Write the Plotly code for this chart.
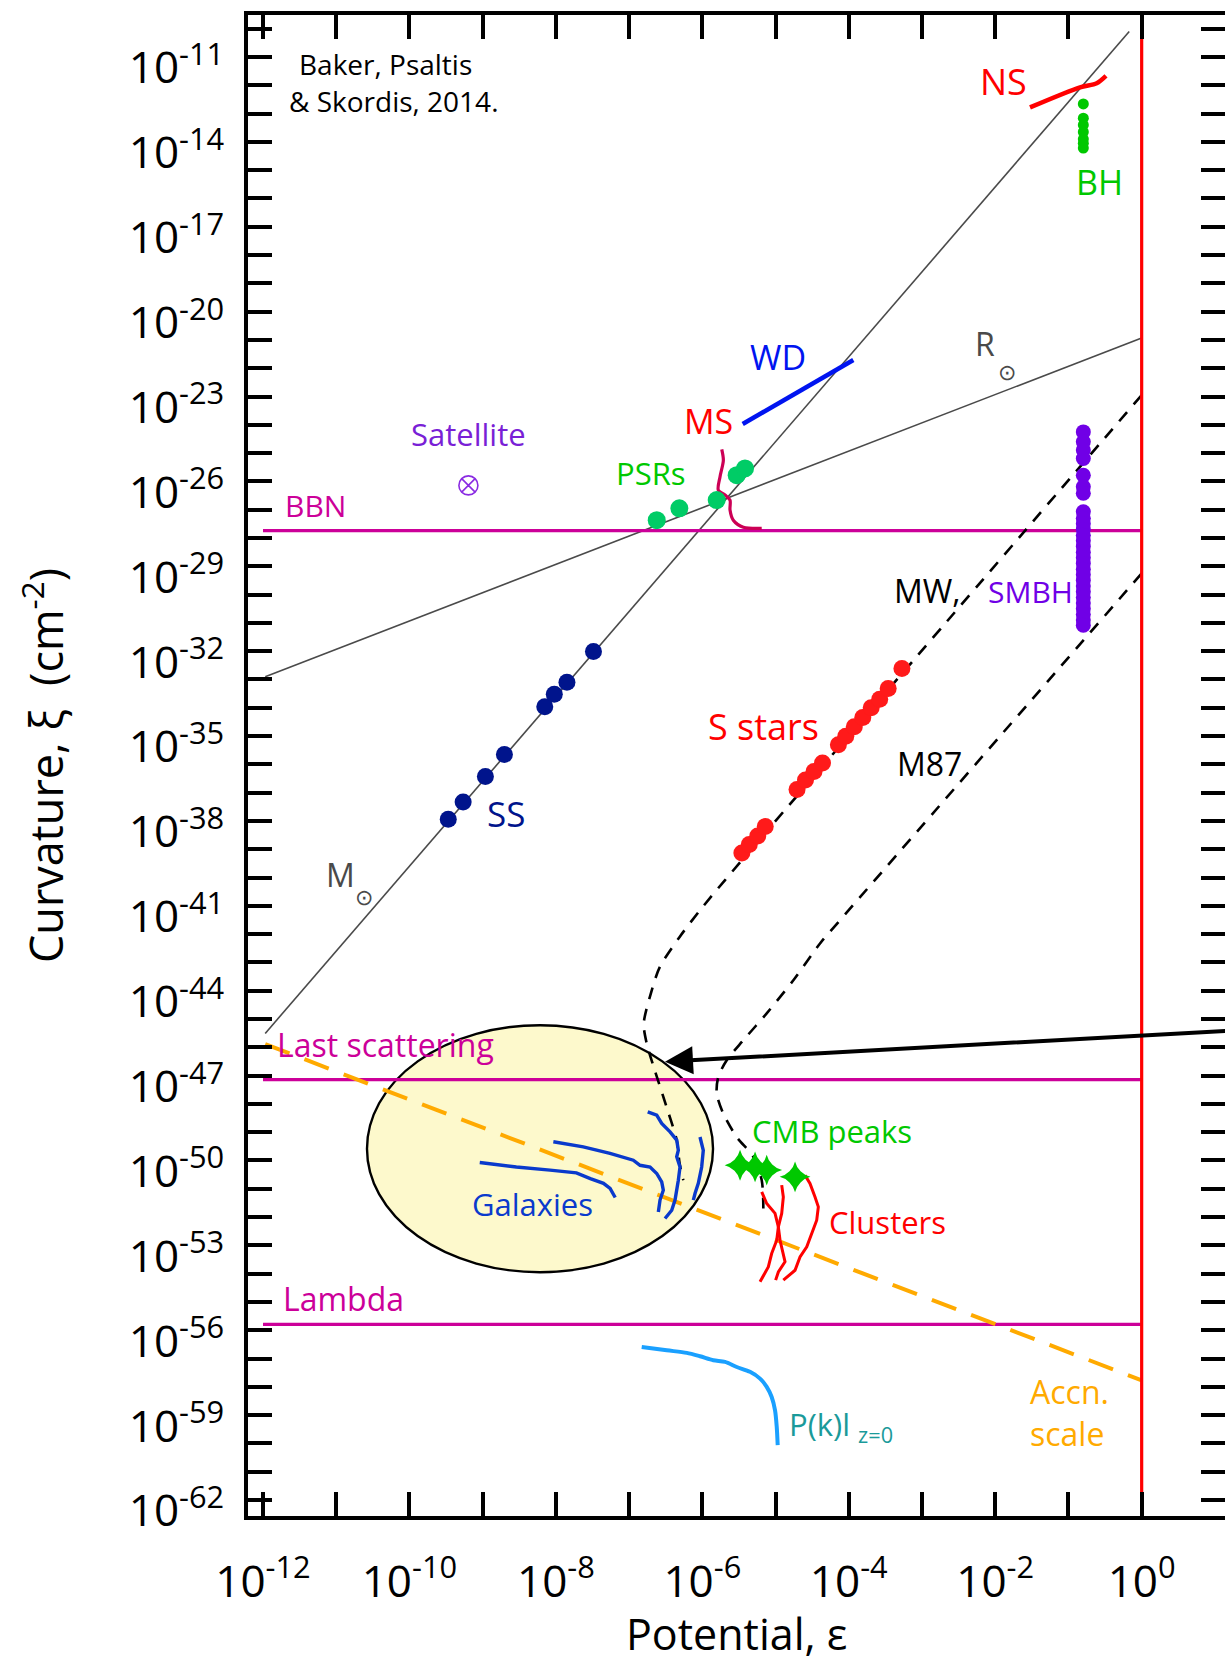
import numpy as np
import plotly.graph_objects as go

FONT = "Open Sans"

# ---------------- axes: decades ----------------
x_tick_exp = list(range(-12, 1))
x_label_exp = [-12, -10, -8, -6, -4, -2, 0]
y_tick_exp = list(range(-62, -9))
y_label_exp = [-62, -59, -56, -53, -50, -47, -44, -41, -38, -35, -32, -29, -26, -23, -20, -17, -14, -11]

# ---------------- reference lines (log10 eps, log10 xi) ----------------
msun_log_eps = [-11.97, -0.17]
msun_log_xi = [-45.51, -10.10]
rsun_log_eps = [-11.97, 0.0]
rsun_log_xi = [-32.90, -20.93]
accn_log_eps = [-11.97, 0.0]
accn_log_xi = [-45.89, -57.77]

hline_log_eps = [-12.0, 0.0]
bbn_log_xi = -27.74
last_scatter_log_xi = -47.14
lambda_log_xi = -55.79

horizon_log_eps = [0.0, 0.0]
horizon_log_xi = [-10.1, -62.0]

# ---------------- compact objects ----------------
ns_log_eps = [-1.525, -0.842, -0.614, -0.487]
ns_log_xi = [-12.78, -12.07, -11.93, -11.67]

bh_log_eps = [-0.797, -0.797, -0.797, -0.797, -0.797, -0.797, -0.797]
bh_log_xi = [-12.66, -13.16, -13.40, -13.65, -13.90, -14.05, -14.22]

wd_log_eps = [-5.449, -3.938]
wd_log_xi = [-23.97, -21.71]

ms_log_eps = [-5.735, -5.713, -5.759, -5.782, -5.690, -5.622, -5.622, -5.577, -5.440, -5.189]
ms_log_xi = [-24.87, -25.25, -25.84, -26.31, -26.48, -26.66, -27.01, -27.37, -27.62, -27.66]

psr_log_eps = [-6.623, -6.314, -5.804, -5.531, -5.417]
psr_log_xi = [-27.37, -26.95, -26.66, -25.78, -25.54]

satellite_log_eps = [-9.195]
satellite_log_xi = [-26.14]

ss_log_eps = [-9.470, -9.267, -8.963, -8.703, -8.152, -8.022, -7.849, -7.487]
ss_log_xi = [-37.94, -37.33, -36.43, -35.65, -33.96, -33.52, -33.10, -32.01]

sstar_log_eps = [-5.460, -5.359, -5.243, -5.141, -4.707, -4.591, -4.475, -4.359,
                 -4.142, -4.041, -3.925, -3.809, -3.694, -3.578, -3.462, -3.274]
sstar_log_xi = [-39.13, -38.83, -38.53, -38.20, -36.89, -36.55, -36.25, -35.95,
                -35.31, -35.01, -34.67, -34.34, -34.00, -33.70, -33.32, -32.61]

smbh_log_xi = [-24.25, -24.60, -24.89, -25.19, -25.78, -26.19, -26.42,
               -27.07, -27.30, -27.50, -27.70, -27.90, -28.10, -28.30, -28.50,
               -28.70, -28.90, -29.10, -29.30, -29.50, -29.70, -29.90, -30.10,
               -30.30, -30.50, -30.70, -30.90, -31.08]
smbh_log_eps = [-0.797] * len(smbh_log_xi)

# ---------------- galactic potentials (dashed) ----------------
mw_log_eps = [0.0, -5.69, -6.03, -6.31, -6.58, -6.69, -6.80, -6.76, -6.65, -6.49, -6.35, -6.31, -6.26]
mw_log_xi = [-22.95, -40.09, -41.15, -42.10, -43.16, -43.98, -45.16, -45.86, -46.81, -48.10, -49.28, -50.11, -50.70]

m87_log_eps = [0.0, -4.120, -4.393, -4.757, -5.121, -5.440, -5.667, -5.782, -5.804, -5.714, -5.531, -5.304, -5.189, -5.167]
m87_log_xi = [-29.25, -41.51, -42.33, -43.63, -44.80, -45.75, -46.46, -47.05, -47.63, -48.34, -49.17, -49.87, -50.70, -51.70]

# ---------------- galaxies (rotation curves) ----------------
gal_log_eps = [
    [-9.04, -8.54, -8.08, -7.72, -7.53, -7.35, -7.26, -7.19],
    [-8.035, -7.626, -7.261, -6.943, -6.851, -6.714, -6.623, -6.555, -6.533, -6.578, -6.601],
    [-6.746, -6.623, -6.555, -6.441, -6.350, -6.328, -6.350, -6.305, -6.328, -6.350, -6.373, -6.418, -6.510],
    [-6.032, -5.987, -6.009, -6.055, -6.100, -6.123],
]
gal_log_xi = [
    [-50.07, -50.23, -50.34, -50.44, -50.64, -50.81, -50.99, -51.31],
    [-49.34, -49.52, -49.75, -49.99, -50.17, -50.23, -50.46, -50.76, -51.05, -51.40, -51.82],
    [-48.28, -48.40, -48.69, -48.99, -49.28, -49.64, -49.87, -50.23, -50.70, -51.05, -51.40, -51.76, -52.05],
    [-49.17, -49.64, -50.23, -50.81, -51.17, -51.40],
]

# ---------------- clusters ----------------
cl_log_eps = [
    [-5.189, -5.121, -5.007, -4.962, -4.984, -5.053, -5.099, -5.144, -5.212],
    [-4.916, -4.894, -4.916, -4.962, -4.939, -4.894, -4.871, -4.962, -4.999],
    [-4.598, -4.530, -4.461, -4.416, -4.438, -4.506, -4.574, -4.666, -4.734, -4.894],
]
cl_log_xi = [
    [-51.11, -51.52, -51.87, -52.35, -52.82, -53.29, -53.76, -53.99, -54.29],
    [-50.87, -51.29, -51.87, -52.35, -52.82, -53.29, -53.58, -53.94, -54.23],
    [-50.52, -50.81, -51.29, -51.64, -52.11, -52.58, -53.05, -53.41, -53.88, -54.23],
]

cmb_log_eps = [-5.485, -5.280, -5.121, -4.734]
cmb_log_xi = [-50.17, -50.23, -50.34, -50.58]

pk_log_eps = [-6.828, -6.486, -6.213, -6.032, -5.850, -5.690, -5.530, -5.349,
              -5.212, -5.121, -5.053, -5.007, -4.984, -4.971]
pk_log_xi = [-56.59, -56.71, -56.80, -56.92, -57.06, -57.12, -57.30, -57.47,
             -57.71, -58.00, -58.36, -58.83, -59.42, -60.06]

# region covered by galaxy observations (ellipse bounds)
galaxy_region_log_eps = [-10.58, -5.854]
galaxy_region_log_xi = [-53.95, -45.22]


def lin(v):
    return 10.0 ** np.asarray(v, dtype=float)


fig = go.Figure()


def add_line(xe, ye, color, width, dash="solid", shape="linear"):
    fig.add_trace(go.Scatter(
        x=lin(xe), y=lin(ye), mode="lines",
        line=dict(color=color, width=width, dash=dash, shape=shape,
                  smoothing=0.8 if shape == "spline" else None),
        hoverinfo="skip", showlegend=False))


def add_dots(xe, ye, color, size, symbol="circle", line=None):
    fig.add_trace(go.Scatter(
        x=lin(xe), y=lin(ye), mode="markers",
        marker=dict(color=color, size=size, symbol=symbol,
                    line=line or dict(width=0)),
        hoverinfo="skip", showlegend=False))


GRAY = "#4a4a4a"
MAGENTA = "#cc0099"
RED = "#ff0000"
ORANGE = "#ffaa00"
GREEN = "#00c800"

# mass / radius reference lines
add_line(msun_log_eps, msun_log_xi, GRAY, 1.6)
add_line(rsun_log_eps, rsun_log_xi, GRAY, 1.6)

# cosmological reference curvatures
for v in (bbn_log_xi, last_scatter_log_xi, lambda_log_xi):
    add_line(hline_log_eps, [v, v], MAGENTA, 3.2)

# acceleration scale
add_line(accn_log_eps, accn_log_xi, ORANGE, 4, dash="26px,16px")

# galactic potentials
add_line(mw_log_eps, mw_log_xi, "black", 2.6, dash="12px,10px", shape="spline")
add_line(m87_log_eps, m87_log_xi, "black", 2.6, dash="12px,10px", shape="spline")

# galaxies, clusters, power spectrum
for xe, ye in zip(gal_log_eps, gal_log_xi):
    add_line(xe, ye, "#0a3acc", 3.4)
for xe, ye in zip(cl_log_eps, cl_log_xi):
    add_line(xe, ye, RED, 3.0)
add_line(pk_log_eps, pk_log_xi, "#1aa0ff", 4, shape="spline")

# compact objects
add_line(ns_log_eps, ns_log_xi, RED, 4.5, shape="spline")
add_line(wd_log_eps, wd_log_xi, "#0014f0", 4.5)
add_line(ms_log_eps, ms_log_xi, "#cc0055", 3.2, shape="spline")

# horizon (epsilon = 1)
add_line(horizon_log_eps, horizon_log_xi, RED, 3.2)

add_dots(psr_log_eps, psr_log_xi, "#00cc66", 18)
add_dots(ss_log_eps, ss_log_xi, "#00148c", 17)
add_dots(sstar_log_eps, sstar_log_xi, "#ff1a1a", 17)
add_dots(bh_log_eps, bh_log_xi, GREEN, 11)
add_dots(smbh_log_eps, smbh_log_xi, "#7000e6", 15)
add_dots(satellite_log_eps, satellite_log_xi, "#8a2be2", 19, symbol="circle-x-open",
         line=dict(width=1.6, color="#8a2be2"))
add_dots(cmb_log_eps, cmb_log_xi, GREEN, 22, symbol="star-diamond")

# ellipse marking the galaxy region
fig.add_shape(type="circle", xref="x", yref="y", layer="below",
              x0=lin(galaxy_region_log_eps[0]), x1=lin(galaxy_region_log_eps[1]),
              y0=lin(galaxy_region_log_xi[0]), y1=lin(galaxy_region_log_xi[1]),
              fillcolor="#fdf9cc", line=dict(color="black", width=2.4))


def label(text, lx, ly, color, size, xanchor="center", yanchor="middle", align="center"):
    fig.add_annotation(x=lx, y=ly, xref="x", yref="y", text=text, showarrow=False,
                       xanchor=xanchor, yanchor=yanchor, align=align,
                       font=dict(family=FONT, size=size, color=color))


label("Baker, Psaltis", -11.536, -11.247, "black", 28, xanchor="left")
label("& Skordis, 2014.", -11.672, -12.555, "black", 28, xanchor="left")
label("NS", -1.893, -11.85, RED, 36)
label("BH", -0.582, -15.42, GREEN, 34)
label("WD", -4.966, -21.60, "#0014f0", 34)
label("MS", -5.922, -23.87, RED, 34)
label("PSRs", -6.701, -25.70, GREEN, 31)
label("Satellite", -9.200, -24.33, "#7a1fd6", 31)
label("BBN", -11.279, -26.85, MAGENTA, 30)
label("R", -2.133, -21.14, GRAY, 32)
label("⊙", -1.839, -22.10, GRAY, 22)
label("M", -10.935, -39.88, GRAY, 32)
label("⊙", -10.627, -40.64, GRAY, 22)
label("SS", -8.688, -37.72, "#00148c", 35)
label("S stars", -5.171, -34.65, RED, 36)
label("MW,", -2.929, -29.85, "black", 32)
label("SMBH", -1.525, -29.88, "#7000e6", 30)
label("M87", -2.899, -35.96, "black", 32)
label("Last scattering", -11.83, -45.89, MAGENTA, 32, xanchor="left")
label("Galaxies", -8.319, -51.54, "#0a3acc", 31)
label("CMB peaks", -4.229, -48.96, GREEN, 31)
label("Clusters", -3.471, -52.17, RED, 31)
label("Lambda", -11.757, -54.87, MAGENTA, 32, xanchor="left")
label("P(k)l <sub>z=0</sub>", -4.847, -59.40, "#1a9a9a", 31, xanchor="left")
label("Accn.<br>scale", -1.552, -58.91, ORANGE, 32, xanchor="left", align="left")

# arrow pointing at the galaxy region
fig.add_annotation(x=-6.51, y=-46.51, ax=1.3, ay=-45.40, xref="x", yref="y",
                   axref="x", ayref="y", text="", showarrow=True,
                   arrowhead=2, arrowsize=1.4, arrowwidth=4, arrowcolor="black",
                   standoff=0)

# x-axis title, set just above the lower edge of the page
fig.add_annotation(x=0.5, y=0, xref="paper", yref="paper", yshift=-117,
                   xanchor="center", yanchor="middle", showarrow=False,
                   text="Potential, ε",
                   font=dict(family=FONT, size=43, color="black"))

x_ticktext = [f"10<sup>{k}</sup>" for k in x_label_exp]
y_ticktext = [f"10<sup>{k}</sup>" for k in y_label_exp]

tick_style = dict(ticks="inside", ticklen=24, tickwidth=3.5, tickcolor="black")

axis_common = dict(
    type="log", showgrid=False, zeroline=False, showline=True, linewidth=4,
    linecolor="black", mirror="allticks", automargin=False, **tick_style,
    tickfont=dict(family=FONT, size=44, color="black"),
)

fig.update_layout(
    width=1225, height=1662,
    margin=dict(l=248, r=0, t=15, b=146, autoexpand=False),
    paper_bgcolor="white", plot_bgcolor="white",
    showlegend=False,
    xaxis=dict(axis_common, range=[-12.205, 1.138],
               tickmode="array", tickvals=lin(x_label_exp), ticktext=x_ticktext,
               minor=dict(tickmode="array", tickvals=lin(x_tick_exp), showgrid=False,
                          **tick_style),
               ticklabelstandoff=24),
    yaxis=dict(axis_common, range=[-62.566, -9.515],
               tickmode="array", tickvals=lin(y_label_exp), ticktext=y_ticktext,
               minor=dict(tickmode="array", tickvals=lin(y_tick_exp), showgrid=False,
                          **tick_style),
               ticklabelstandoff=11, ticklabelshift=11,
               title=dict(text="Curvature, ξ  (cm<sup>-2</sup>)", standoff=52,
                          font=dict(family=FONT, size=45, color="black"))),
)

fig.write_html("out.html")
